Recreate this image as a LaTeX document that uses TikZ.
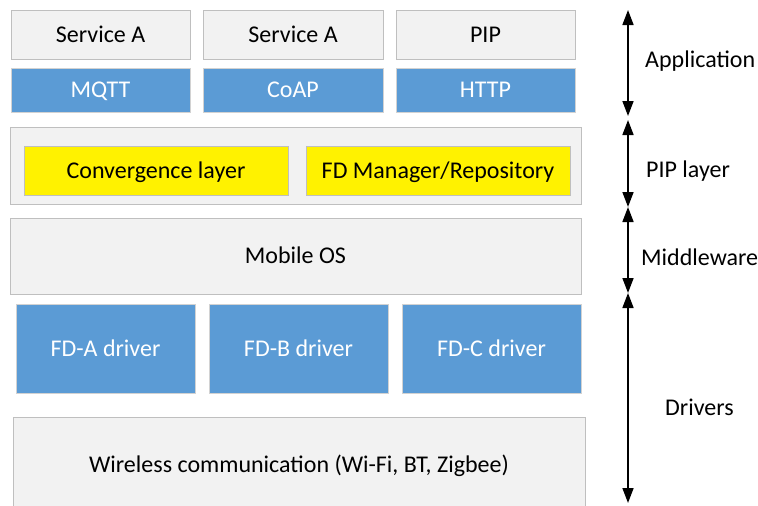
\documentclass[tikz,border=0pt]{standalone}
\usepackage{fontspec}
\setmainfont{Carlito}
\usetikzlibrary{positioning, arrows.meta}
\definecolor{boxgray}{HTML}{F2F2F2}
\definecolor{linegray}{HTML}{BFBFBF}
\definecolor{drvblue}{HTML}{5B9BD5}
\tikzstyle{graybox} = [rectangle, anchor=north west, inner sep=0pt, outer sep=0pt, line width=1pt, text height=15pt, text depth=0pt, text centered, draw=linegray, fill=boxgray]
\tikzstyle{bluebox} = [rectangle, anchor=north west, inner sep=0pt, outer sep=0pt, line width=1pt, text height=15pt, text depth=0pt, text centered, draw=linegray!70, fill=drvblue, text=white]
\tikzstyle{yellowbox} = [rectangle, anchor=north west, inner sep=0pt, outer sep=0pt, line width=1pt, text height=15pt, text depth=0pt, text centered, draw=linegray, fill=yellow]
\tikzstyle{span} = [line width=1.6pt, {Triangle[width=11pt,length=15pt]}-{Triangle[width=11pt,length=15pt]}]
\tikzstyle{layer} = [anchor=west, inner sep=0pt]

\begin{document}
\begin{tikzpicture}[x=1pt, y=-1pt, font=\fontsize{24}{28}\selectfont]
        \useasboundingbox (0,0) rectangle (758,506);

        % application
        \node (serva) [graybox, minimum width=179pt, minimum height=49pt] at (11,10) {Service A};
        \node (servb) [graybox, minimum width=180pt, minimum height=49pt] at (203,10) {Service A};
        \node (pip) [graybox, minimum width=179pt, minimum height=49pt] at (396,10) {PIP};
        \node (mqtt) [bluebox, minimum width=179pt, minimum height=44pt] at (11,68) {MQTT};
        \node (coap) [bluebox, minimum width=180pt, minimum height=44pt] at (203,68) {CoAP};
        \node (http) [bluebox, minimum width=179pt, minimum height=44pt] at (396,68) {HTTP};

        % pip layer
        \node (piplayer) [graybox, minimum width=571pt, minimum height=77pt] at (10,127) {};
        \node (converge) [yellowbox, minimum width=264pt, minimum height=49pt] at (24,146) {Convergence layer};
        \node (fdmanager) [yellowbox, minimum width=264pt, minimum height=49pt] at (306,146) {FD Manager/Repository};

        % middleware
        \node (mobileos) [graybox, minimum width=571pt, minimum height=76pt] at (10,218) {Mobile OS};

        % drivers
        \node (fda) [bluebox, minimum width=179pt, minimum height=89pt] at (16,304) {FD-A driver};
        \node (fdb) [bluebox, minimum width=179pt, minimum height=89pt] at (209,304) {FD-B driver};
        \node (fdc) [bluebox, minimum width=179pt, minimum height=89pt] at (402,304) {FD-C driver};
        \node (wireless) [graybox, minimum width=572pt, minimum height=95pt] at (13,417) {Wireless communication (Wi-Fi, BT, Zigbee)};

        % layer spans
        \coordinate (apptop) at (628,10);
        \coordinate (appbot) at (628,116);
        \coordinate (piptop) at (628,120);
        \coordinate (pipbot) at (628,207);
        \coordinate (midtop) at (628,207);
        \coordinate (midbot) at (628,293);
        \coordinate (drvtop) at (628,293);
        \coordinate (drvbot) at (628,503);
        \draw [span] (apptop) -- (appbot);
        \draw [span] (piptop) -- (pipbot);
        \draw [span] (midtop) -- (midbot);
        \draw [span] (drvtop) -- (drvbot);

        \node (applabel) [layer] at (645,61) {Application};
        \node (piplabel) [layer] at (646,171) {PIP layer};
        \node (midlabel) [layer] at (641,257) {Middleware};
        \node (drvlabel) [layer] at (665,407) {Drivers};
\end{tikzpicture}
\end{document}
